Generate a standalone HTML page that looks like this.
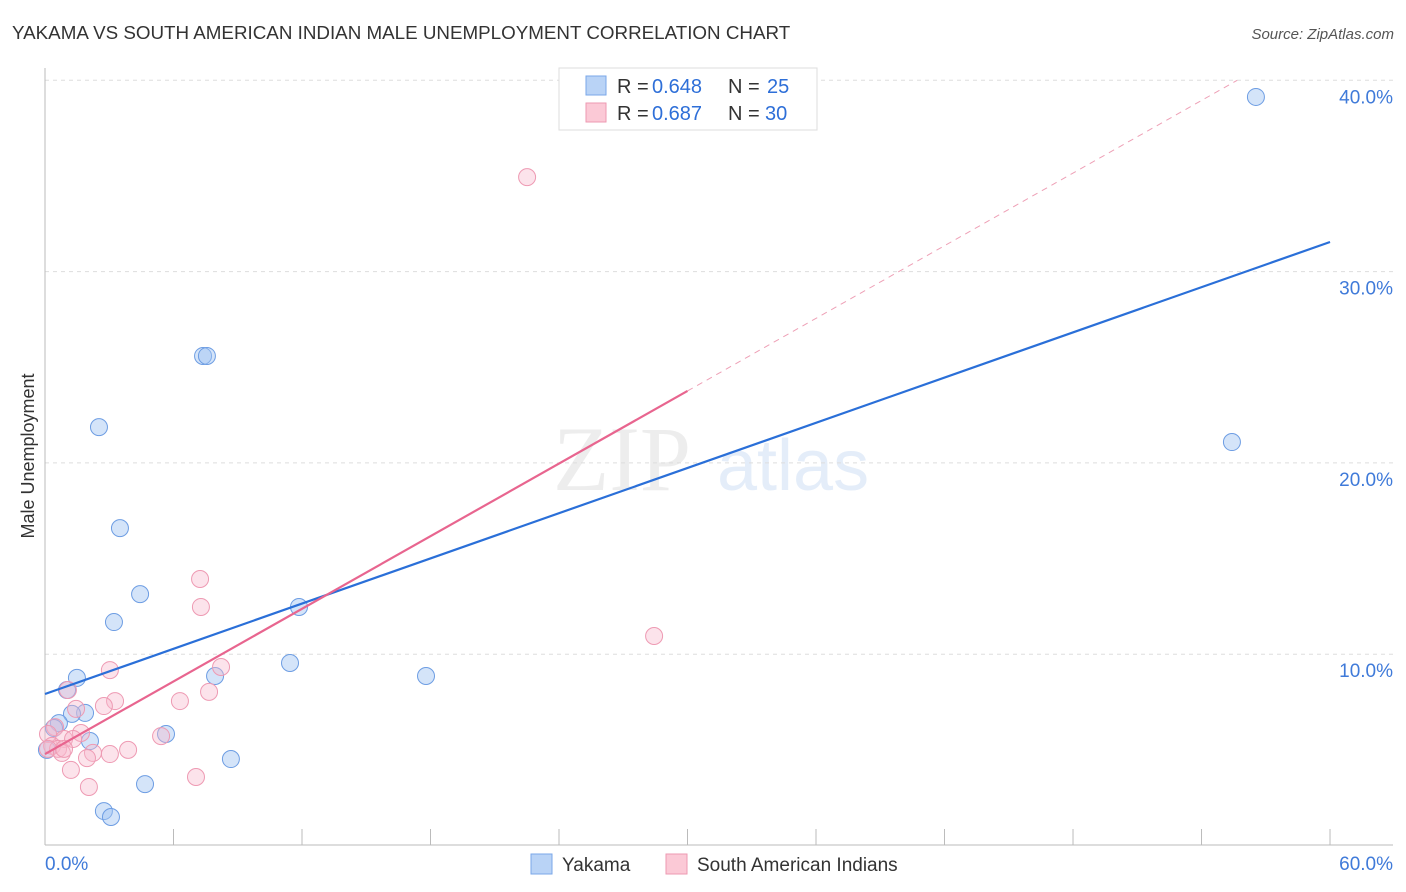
<!DOCTYPE html>
<html><head><meta charset="utf-8"><style>
body{margin:0;background:#fff;font-family:"Liberation Sans",sans-serif;}
svg{display:block}
</style></head><body>
<svg id="chart" width="1406" height="892" viewBox="0 0 1406 892">
<text x="12" y="39" font-size="18.8" fill="#333">YAKAMA VS SOUTH AMERICAN INDIAN MALE UNEMPLOYMENT CORRELATION CHART</text>
<text x="1394" y="39" font-size="15" fill="#555" font-style="italic" text-anchor="end">Source: ZipAtlas.com</text>
<text x="34" y="456" font-size="18" fill="#333" text-anchor="middle" transform="rotate(-90 34 456)">Male Unemployment</text>
<g opacity="0.35">
<text x="553" y="490" font-size="92" fill="#ccc" font-family="Liberation Serif,serif">ZIP</text>
<text x="717" y="490" font-size="72" fill="#b5cdee">atlas</text>
</g>
<g id="grid"></g><g id="axes"></g><g id="marks"></g>
<g>
<rect x="559" y="68" width="258" height="62" fill="#fff" stroke="#ddd"/>
<rect x="586" y="76" width="20" height="19" fill="#b9d3f6" stroke="#7aa7e8"/>
<rect x="586" y="103" width="20" height="19" fill="#fbc9d6" stroke="#ee99b2"/>
<text x="617" y="93" font-size="20" fill="#333">R =</text>
<text x="652" y="93" font-size="20" fill="#2e6fd8">0.648</text>
<text x="728" y="93" font-size="20" fill="#333">N =</text>
<text x="767" y="93" font-size="20" fill="#2e6fd8">25</text>
<text x="617" y="120" font-size="20" fill="#333">R =</text>
<text x="652" y="120" font-size="20" fill="#2e6fd8">0.687</text>
<text x="728" y="120" font-size="20" fill="#333">N =</text>
<text x="765" y="120" font-size="20" fill="#2e6fd8">30</text>
</g>
<g>
<rect x="531" y="854" width="21" height="20" fill="#b9d3f6" stroke="#7aa7e8"/>
<text x="562" y="871" font-size="19" fill="#333">Yakama</text>
<rect x="666" y="854" width="21" height="20" fill="#fbc9d6" stroke="#ee99b2"/>
<text x="697" y="871" font-size="19" fill="#333">South American Indians</text>
</g>
</svg>
<script>
const yTicks=[10,20,30,40];
const yTickLabels=["10.0%","20.0%","30.0%","40.0%"];
const xTicks=[0,6,12,18,24,30,36,42,48,54,60];
const xEndLabels=["0.0%","60.0%"];
const yakamaX=[56.54,55.42,7.38,7.56,2.52,3.50,4.44,3.22,11.86,11.44,17.79,1.49,7.94,5.65,1.03,1.87,1.26,0.65,0.42,2.10,8.68,4.67,2.75,3.08,0.09];
const yakamaY=[39.13,21.09,25.59,25.59,21.87,16.59,13.14,11.68,12.47,9.54,8.86,8.76,8.86,5.83,8.13,6.93,6.88,6.40,6.14,5.46,4.52,3.21,1.80,1.49,5.00];
const saiX=[22.51,7.24,7.28,28.44,8.22,3.03,1.07,7.66,3.27,6.30,2.75,1.45,1.68,5.42,0.47,0.14,0.89,1.31,0.33,0.61,0.14,3.88,3.03,2.24,1.96,0.79,1.21,2.05,7.05,0.89];
const saiY=[34.94,13.93,12.47,10.95,9.33,9.17,8.13,8.03,7.55,7.55,7.29,7.14,5.88,5.72,6.19,5.83,5.57,5.57,5.21,5.05,5.05,5.00,4.78,4.84,4.57,4.84,3.95,3.06,3.58,5.05];
const yakamaLine=[7.92,0.3938];
const saiLine=[4.78,0.6327];
const NS="http://www.w3.org/2000/svg";
const sx=v=>45+v*21.417, sy=v=>845.5-v*19.13;
function mk(tag,attrs,parent){const e=document.createElementNS(NS,tag);for(const k in attrs)e.setAttribute(k,attrs[k]);document.getElementById(parent).appendChild(e);return e;}
yTicks.forEach((t,i)=>{
 const l=mk('line',{x1:45,x2:1393,y1:sy(t),y2:sy(t),stroke:'#ddd','stroke-dasharray':'4,4'},'grid');
 
 
 const tx=mk('text',{x:1393,y:sy(t)+23,'font-size':19,fill:'#3f7ad9','text-anchor':'end'},'axes');
 tx.textContent=yTickLabels[i];
 
 
});
let a=mk('line',{x1:45,x2:45,y1:68,y2:845,stroke:'#bbb'},'axes');


a=mk('line',{x1:45,x2:1393,y1:845,y2:845,stroke:'#bbb'},'axes');


xTicks.forEach(t=>{
 const l=mk('line',{x1:sx(t),x2:sx(t),y1:829,y2:845,stroke:'#bbb'},'axes');
 
 
});
let t0=mk('text',{x:45,y:870,'font-size':19,fill:'#3f7ad9'},'axes');t0.textContent=xEndLabels[0];


let t1=mk('text',{x:1393,y:870,'font-size':19,fill:'#3f7ad9','text-anchor':'end'},'axes');t1.textContent=xEndLabels[1];


yakamaX.forEach((x,i)=>{
 const c=mk('circle',{cx:sx(x),cy:sy(yakamaY[i]),r:8.5,fill:'rgba(160,196,242,0.45)',stroke:'#6d9de3','stroke-width':1},'marks');
 
 
});
saiX.forEach((x,i)=>{
 const c=mk('circle',{cx:sx(x),cy:sy(saiY[i]),r:8.5,fill:'rgba(248,186,204,0.4)',stroke:'#ee9ab3','stroke-width':1},'marks');
 
 
});
let l=mk('line',{x1:sx(0),y1:sy(yakamaLine[0]),x2:sx(60),y2:sy(yakamaLine[0]+60*yakamaLine[1]),stroke:'#2a6fd8','stroke-width':2.2},'marks');


const sEnd=30, dEnd=(40-saiLine[0])/saiLine[1];
l=mk('line',{x1:sx(0),y1:sy(saiLine[0]),x2:sx(sEnd),y2:sy(saiLine[0]+sEnd*saiLine[1]),stroke:'#e8658f','stroke-width':2.2},'marks');


l=mk('line',{x1:sx(sEnd),y1:sy(saiLine[0]+sEnd*saiLine[1]),x2:sx(dEnd),y2:sy(40),stroke:'#eea0b6','stroke-width':1,'stroke-dasharray':'6,5'},'marks');


</script>
</body></html>
